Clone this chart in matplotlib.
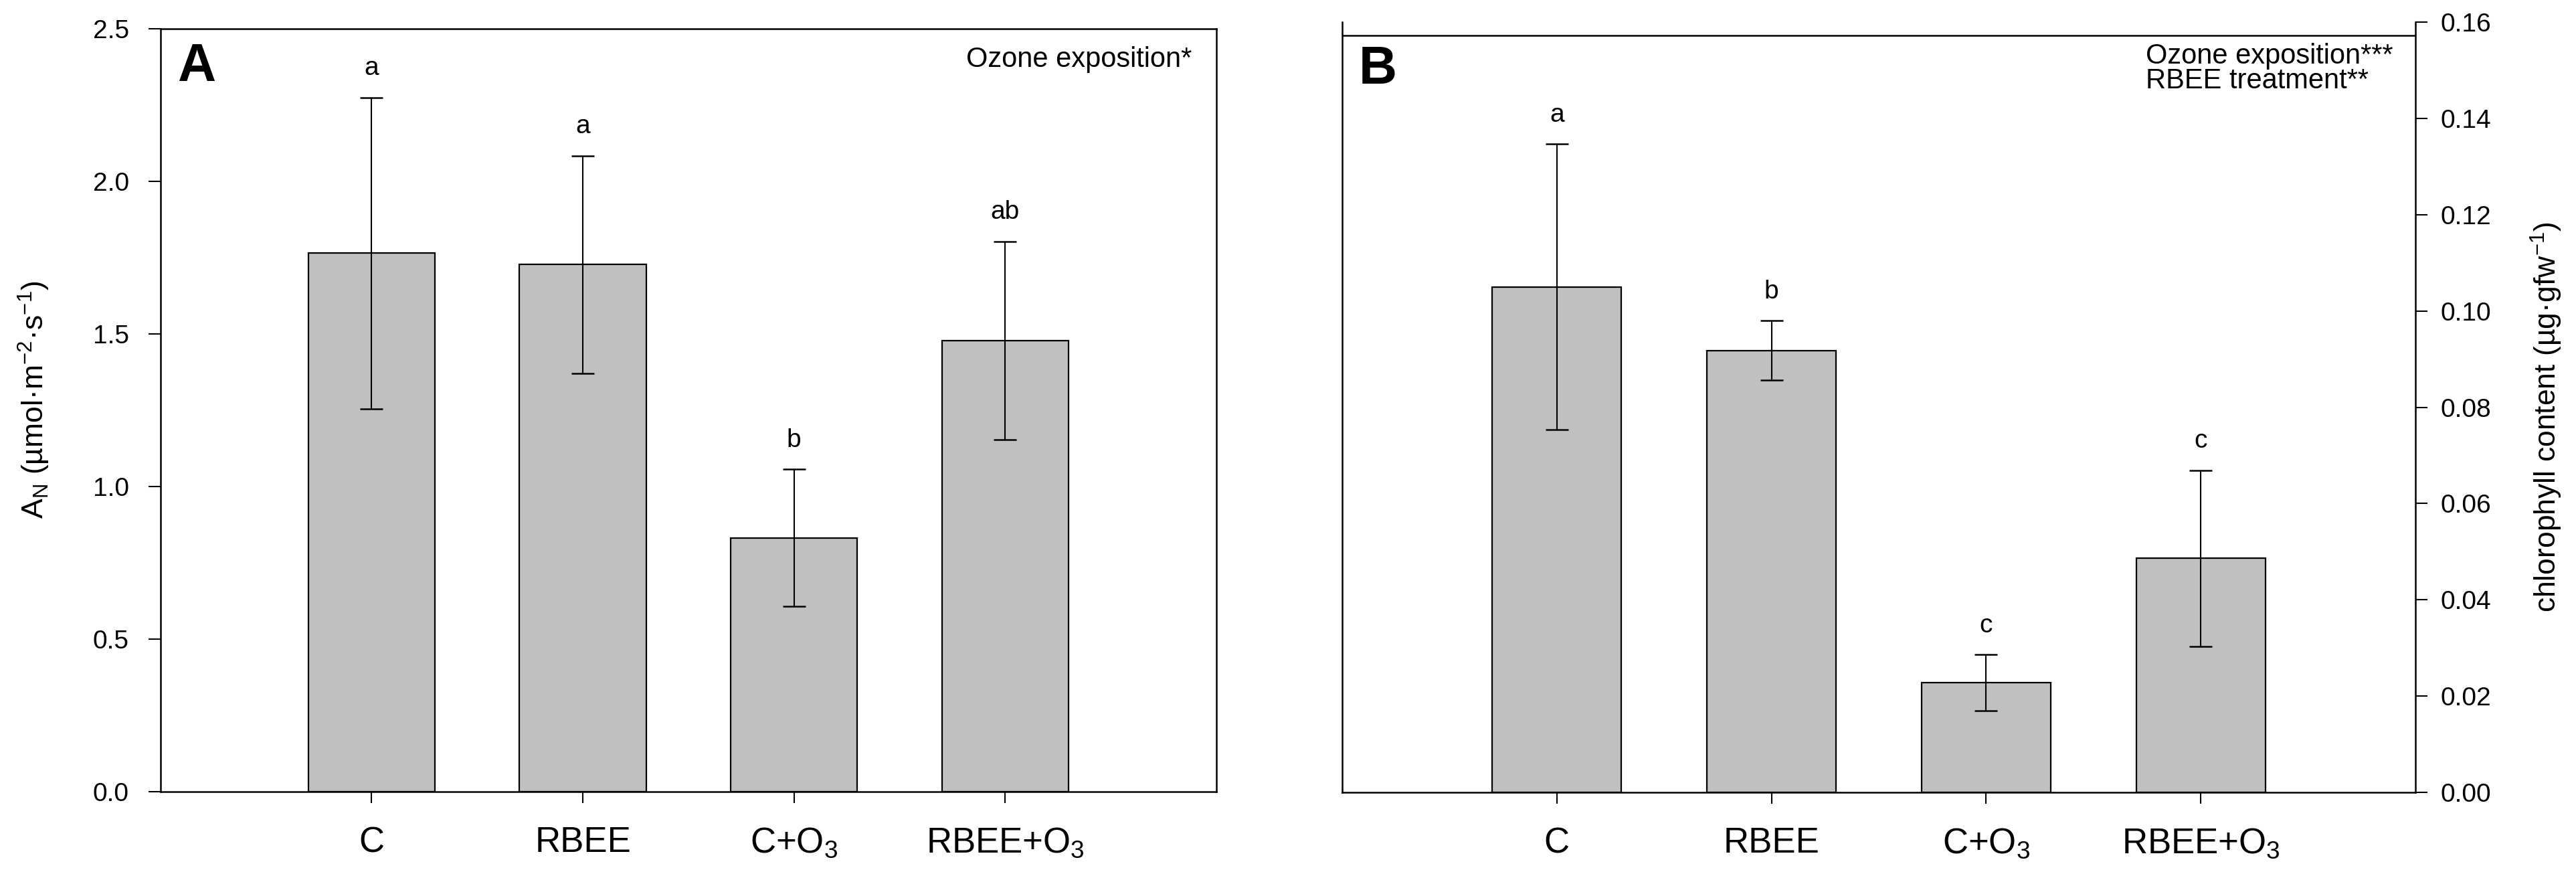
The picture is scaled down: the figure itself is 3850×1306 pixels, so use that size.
import matplotlib.pyplot as plt
from matplotlib.ticker import FormatStrFormatter, MultipleLocator

plt.rcParams['font.family'] = ['Liberation Sans', 'DejaVu Sans']
plt.rcParams['mathtext.default'] = 'regular'

# --- data ---
groups = ['C', 'RBEE', 'C+O$_3$', 'RBEE+O$_3$']

an_mean = [1.765, 1.727, 0.832, 1.478]
an_err = [0.51, 0.357, 0.225, 0.325]
an_letters = ['a', 'a', 'b', 'ab']

chl_mean = [0.105, 0.0918, 0.0228, 0.0486]
chl_err = [0.0297, 0.0062, 0.0058, 0.0183]
chl_letters = ['a', 'b', 'c', 'c']

x = [1, 2, 3, 4]

fig = plt.figure(figsize=(38.5, 13.06), dpi=100)
axA = fig.add_axes([0.0623, 0.0942, 0.4099, 0.8729])
axB = fig.add_axes([0.5210, 0.0934, 0.4167, 0.8813])


def draw_bars(ax, means, errs, letters):
    ax.bar(x, means, width=0.6, color='#c0c0c0', edgecolor='black',
           linewidth=1.6, zorder=2)
    ax.errorbar(x, means, yerr=errs, fmt='none', ecolor='black',
                elinewidth=1.5, capsize=12, capthick=1.8, zorder=3)
    for xi, m, e, lab in zip(x, means, errs, letters):
        ax.annotate(lab, (xi, m + e), xytext=(0, 24), textcoords='offset points',
                    ha='center', va='baseline', fontsize=28)
    ax.set_xlim(0, 5)
    ax.set_xticks(x)
    ax.set_xticklabels(groups)
    ax.tick_params(axis='x', direction='out', length=12, width=1.5,
                   labelsize=38, pad=25)
    for s in ax.spines.values():
        s.set_linewidth(1.8)


# panel A
draw_bars(axA, an_mean, an_err, an_letters)
axA.set_ylim(0, 2.5)
axA.yaxis.set_major_locator(MultipleLocator(0.5))
axA.yaxis.set_major_formatter(FormatStrFormatter('%.1f'))
axA.tick_params(axis='y', direction='out', length=13, width=1.5,
                labelsize=28, pad=21)
axA.text(0.016, 0.982, 'A', transform=axA.transAxes, fontsize=57,
         fontweight='bold', ha='left', va='top')
axA.text(0.977, 0.950, 'Ozone exposition*', transform=axA.transAxes,
         ha='right', va='baseline', fontsize=30)
axA.text(-0.120, 0.514, 'A$_N$ (µmol·m$^{-2}$·s$^{-1}$)', transform=axA.transAxes,
         rotation=90, ha='center', va='center', fontsize=32)

# panel B
draw_bars(axB, chl_mean, chl_err, chl_letters)
axB.set_ylim(0, 0.16)
axB.yaxis.set_major_locator(MultipleLocator(0.02))
axB.yaxis.set_major_formatter(FormatStrFormatter('%.2f'))
axB.yaxis.tick_right()
axB.tick_params(axis='y', direction='out', length=13, width=1.5,
                labelsize=28, pad=14, left=False, right=True)
axB.spines['top'].set_visible(False)
axB.axhline(0.1572, color='black', lw=1.8, zorder=4)
axB.text(0.0156, 0.9705, 'B', transform=axB.transAxes, fontsize=57,
         fontweight='bold', ha='left', va='top')
axB.text(0.749, 0.946, 'Ozone exposition***', transform=axB.transAxes,
         ha='left', va='baseline', fontsize=30)
axB.text(0.749, 0.914, 'RBEE treatment**', transform=axB.transAxes,
         ha='left', va='baseline', fontsize=30)
axB.text(1.122, 0.487, 'chlorophyll content (µg·gfw$^{-1}$)', transform=axB.transAxes,
         rotation=90, ha='center', va='center', fontsize=32)

fig.savefig('out.png', dpi=100)
